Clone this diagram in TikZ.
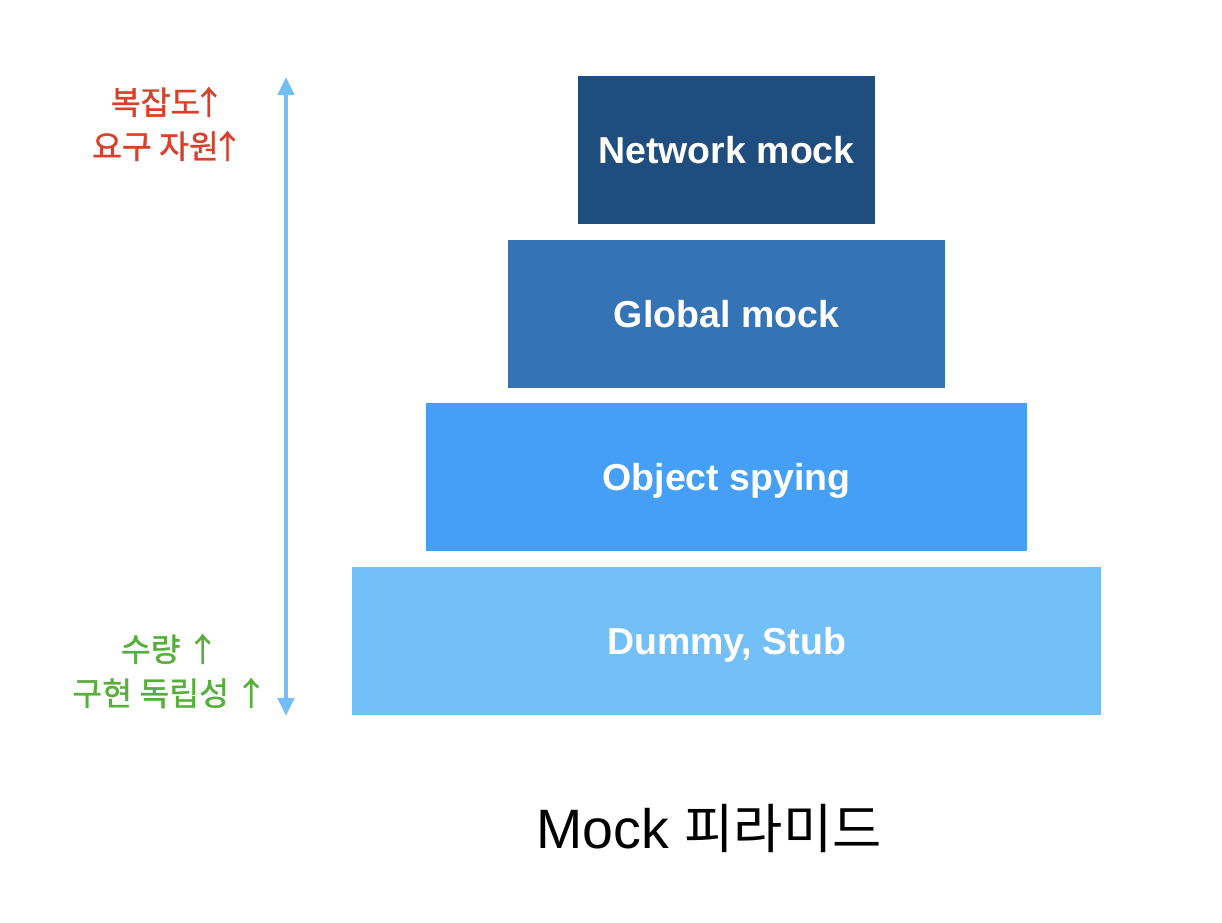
\documentclass[tikz,border=0pt]{standalone}
\usepackage{fontspec}
\setmainfont{Liberation Sans}
\newfontfamily\kr{Noto Sans CJK KR}
\newfontfamily\krm[FakeBold=1.1]{Noto Sans CJK KR}
\newcommand{\uparr}{\kern-0.24em↑\kern-0.3em}
\usetikzlibrary{arrows.meta}
\definecolor{cNet}{HTML}{1F4E7E}
\definecolor{cGlob}{HTML}{3474B6}
\definecolor{cObj}{HTML}{469FF7}
\definecolor{cDum}{HTML}{73BFF8}
\definecolor{cArr}{HTML}{74BEF8}
\definecolor{cRed}{HTML}{D9402C}
\definecolor{cGreen}{HTML}{58AE3A}
\begin{document}
\begin{tikzpicture}[x=1pt,y=-1pt,
  layer/.style={draw=none,inner sep=0pt,minimum height=148pt,text=white,
    text height=27pt,text depth=0pt,
    font=\fontsize{37.5}{40}\selectfont\bfseries},
  lbl/.style={align=center,font=\krm\fontsize{32.5}{44}\selectfont}]
\useasboundingbox (0,0) rectangle (1222,922);
\fill[white] (0,0) rectangle (1222,922);
\node[layer,fill=cNet,minimum width=297pt] (net) at (726.5,150) {Network mock};
\node[layer,fill=cGlob,minimum width=437pt] (glob) at (726.5,314) {Global mock};
\node[layer,fill=cObj,minimum width=601pt] (obj) at (726.5,477) {Object spying};
\node[layer,fill=cDum,minimum width=749pt] (dum) at (726.5,641) {Dummy, Stub};
\coordinate (atop) at (286,77);
\coordinate (abot) at (286,716);
\draw[cArr,line width=4pt,{Triangle[length=18pt,width=16pt]}-{Triangle[length=18pt,width=16pt]}] (abot) -- (atop);
\node[lbl,text=cRed] (red) at (163,124) {복잡도\uparr\\요구 자원\uparr};
\node[lbl,text=cGreen] (green) at (165,671) {수량\hspace{0.42em}\uparr\\구현 독립성\hspace{0.42em}\uparr};
\node[inner sep=0pt] (title) at (709,828) {\fontsize{55.5}{60}\selectfont Mock {\kr\fontsize{53.5}{60}\selectfont 피라미드}};
\end{tikzpicture}
\end{document}
